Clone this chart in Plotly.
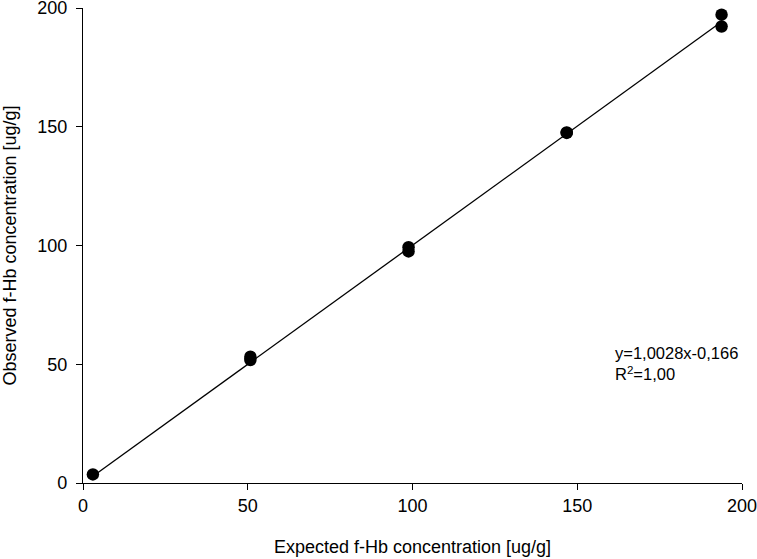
import plotly.graph_objects as go

expected = [3, 50.8, 50.8, 98.8, 98.8, 146.8, 146.8, 193.8, 193.8]
observed = [3.6, 53.2, 51.8, 99.3, 97.5, 147.6, 147.4, 197.2, 192.2]
slope = 1.0028
intercept = -0.166
x_ticks = [0, 50, 100, 150, 200]
y_ticks = [0, 50, 100, 150, 200]

x0, x1 = min(expected), max(expected)

fig = go.Figure()
fig.add_trace(go.Scatter(
    x=[x0, x1], y=[slope * x0 + intercept, slope * x1 + intercept],
    mode="lines", line=dict(color="black", width=1.3), showlegend=False,
    hoverinfo="skip"))
fig.add_trace(go.Scatter(
    x=expected, y=observed, mode="markers",
    marker=dict(color="black", size=12.5), showlegend=False, cliponaxis=False))

font = dict(family="Liberation Sans, Arial, sans-serif", color="black")
fig.update_layout(
    width=757, height=559,
    margin=dict(l=83, r=15, t=8, b=76),
    plot_bgcolor="white", paper_bgcolor="white",
    font=dict(**font, size=18),
    xaxis=dict(range=[0, 200], tickvals=x_ticks, showgrid=False, zeroline=False,
               showline=True, linecolor="black", linewidth=1.3,
               ticks="outside", ticklen=6, tickcolor="black", tickwidth=1.3,
               tickfont=dict(size=18), automargin=False, ticklabeloverflow="allow",
               title=dict(text="Expected f-Hb concentration [ug/g]", font=dict(size=18), standoff=25)),
    yaxis=dict(range=[0, 200], tickvals=y_ticks, showgrid=False, zeroline=False,
               showline=True, linecolor="black", linewidth=1.3,
               ticks="outside", ticklen=6, tickcolor="black", tickwidth=1.3,
               tickfont=dict(size=18), automargin=False, ticklabeloverflow="allow",
               ticklabelstandoff=5,
               title=dict(text="Observed f-Hb concentration [ug/g]", font=dict(size=18), standoff=26)),
    annotations=[dict(
        x=160.8, y=50.3, xref="x", yref="y", xanchor="left", yanchor="middle",
        align="left", showarrow=False,
        text="y=1,0028x-0,166<br>R<sup>2</sup>=1,00", font=dict(size=16.5))],
)

fig.write_html("out.html", config={"displayModeBar": False},
               post_script="document.body.style.margin='0';")
